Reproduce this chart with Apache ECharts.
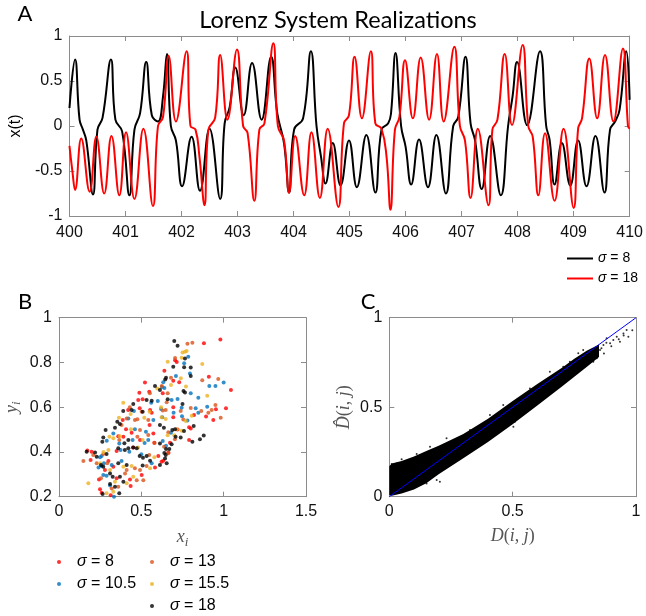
<!DOCTYPE html>
<html><head><meta charset="utf-8">
<script src="https://cdn.jsdelivr.net/npm/echarts@6/dist/echarts.min.js"></script>
<style>html,body{margin:0;padding:0;background:#fff}#c{width:646px;height:616px}</style>
</head><body><div id="c"></div>
<script>
// ---------- Panel A : x(t) ----------
const tBlack = [400.00,400.10,400.18,400.24,400.30,400.42,400.50,400.59,400.74,400.82,400.94,401.07,401.16,401.26,401.37,401.47,401.58,401.67,401.74,401.81,401.90,402.01,402.18,402.33,402.50,402.69,402.77,402.86,402.96,403.11,403.26,403.43,403.60,403.71,403.83,403.92,404.01,404.17,404.31,404.41,404.49,404.57,404.70,404.84,404.99,405.13,405.30,405.46,405.57,405.69,405.74,405.82,405.92,406.00,406.10,406.24,406.40,406.55,406.72,406.85,406.94,407.07,407.16,407.24,407.36,407.51,407.70,407.83,407.91,407.99,408.17,408.40,408.51,408.57,408.66,408.79,408.94,409.08,409.23,409.39,409.55,409.65,409.74,409.82,409.94,410.00];
const xBlack = [0.20,0.74,0.07,-0.04,-0.16,-0.76,-0.04,0.09,0.74,0.07,-0.06,-0.77,-0.04,0.14,0.71,0.12,0.05,0.33,0.80,0.00,-0.16,-0.67,-0.12,-0.72,-0.03,-0.81,0.03,0.21,0.65,0.12,0.70,0.07,0.77,0.14,-0.19,-0.74,-0.04,0.085,0.83,0.00,-0.34,-0.64,-0.19,-0.66,-0.16,-0.68,-0.10,-0.74,-0.04,0.03,0.14,0.81,0.00,-0.23,-0.65,-0.15,-0.68,-0.10,-0.75,0.00,0.10,0.77,0.03,-0.16,-0.70,-0.11,-0.77,0.00,0.33,0.71,0.01,0.83,0.00,-0.15,-0.65,-0.19,-0.66,-0.16,-0.67,-0.11,-0.74,-0.04,0.05,0.18,0.83,0.29];
const tRed = [400.00,400.05,400.10,400.21,400.36,400.48,400.62,400.75,400.89,401.01,401.16,401.32,401.49,401.58,401.67,401.77,401.90,402.09,402.16,402.25,402.32,402.41,402.48,402.60,402.69,402.82,402.99,403.10,403.18,403.30,403.39,403.48,403.64,403.72,403.83,403.92,404.03,404.19,404.32,404.47,404.61,404.80,404.90,404.99,405.09,405.22,405.38,405.46,405.57,405.66,405.73,405.81,405.89,405.99,406.13,406.27,406.42,406.56,406.68,406.87,406.97,407.06,407.16,407.29,407.48,407.55,407.64,407.77,407.90,408.09,408.19,408.27,408.37,408.49,408.66,408.82,409.00,409.08,409.15,409.28,409.42,409.56,409.71,409.88,409.97,410.00];
const xRed = [-0.22,-0.49,-0.71,-0.14,-0.73,-0.12,-0.75,-0.11,-0.77,-0.07,-0.81,-0.03,-0.89,0.00,0.10,0.78,0.05,0.83,0.00,-0.04,-0.34,-0.88,-0.04,0.09,0.79,0.07,0.85,0.00,-0.08,-0.83,-0.04,0.03,0.92,0.00,-0.16,-0.74,-0.11,-0.77,-0.07,-0.80,-0.03,-0.90,0.03,0.12,0.77,0.085,0.83,0.03,-0.03,-0.34,-0.93,-0.04,0.10,0.73,0.085,0.76,0.07,0.80,0.05,0.88,0.00,-0.16,-0.80,-0.03,-0.88,-0.04,0.07,0.80,0.01,0.90,0.00,-0.12,-0.77,-0.08,-0.83,-0.03,-0.91,-0.03,0.085,0.75,0.085,0.79,0.05,0.86,0.00,-0.03];
const xTicksA = [400, 410, 1];
const yTicksA = [-1, 1, 0.5];

// ---------- Panel B : (x_i, y_i) ----------
const ptsSigma8 = [[0.88,0.886],[0.98,0.903],[0.705,0.81],[0.715,0.802],[0.64,0.763],[0.694,0.718],[0.73,0.711],[0.91,0.736],[1.044,0.677],[0.63,0.662],[0.694,0.600],[0.953,0.591],[1.014,0.595],[0.694,0.555],[0.82,0.565],[0.893,0.558],[0.937,0.543],[0.72,0.50],[0.80,0.505],[0.79,0.51],[0.674,0.441],[0.79,0.453],[0.664,0.398],[0.633,0.361],[0.522,0.71],[0.488,0.665],[0.548,0.669],[0.508,0.635],[0.481,0.632],[0.42,0.587],[0.49,0.595],[0.553,0.587],[0.563,0.575],[0.387,0.543],[0.407,0.501],[0.441,0.486],[0.573,0.483],[0.391,0.468],[0.492,0.453],[0.579,0.441],[0.198,0.401],[0.192,0.364],[0.35,0.404],[0.603,0.382],[0.623,0.356],[0.33,0.334],[0.583,0.331],[0.279,0.319],[0.35,0.282],[0.431,0.277],[0.502,0.297],[0.435,0.248],[0.249,0.233],[0.259,0.218],[0.314,0.206],[0.172,0.406],[0.243,0.277],[0.30,0.36],[0.36,0.47],[0.45,0.42],[0.55,0.52]];
const ptsSigma105 = [[0.785,0.826],[0.76,0.796],[0.795,0.751],[0.71,0.739],[0.633,0.711],[0.913,0.695],[0.95,0.695],[1.0,0.71],[0.80,0.662],[0.64,0.686],[0.625,0.69],[0.684,0.632],[0.72,0.637],[0.846,0.642],[0.745,0.598],[0.83,0.595],[0.90,0.602],[0.696,0.575],[0.747,0.56],[0.846,0.575],[0.627,0.555],[0.78,0.541],[0.68,0.486],[0.63,0.449],[0.65,0.428],[0.6,0.628],[0.455,0.583],[0.62,0.592],[0.421,0.55],[0.573,0.543],[0.33,0.483],[0.461,0.501],[0.528,0.49],[0.366,0.438],[0.447,0.453],[0.542,0.453],[0.249,0.376],[0.259,0.382],[0.374,0.409],[0.427,0.401],[0.273,0.349],[0.259,0.337],[0.32,0.342],[0.563,0.349],[0.269,0.297],[0.289,0.294],[0.334,0.20],[0.31,0.25],[0.29,0.45],[0.38,0.36],[0.5,0.39],[0.56,0.62],[0.52,0.44],[0.24,0.33]];
const ptsSigma13 = [[0.78,0.884],[0.81,0.888],[0.705,0.82],[0.68,0.732],[0.624,0.695],[0.87,0.721],[0.967,0.726],[0.66,0.662],[0.654,0.622],[0.63,0.585],[0.80,0.596],[0.864,0.583],[0.927,0.587],[0.95,0.61],[0.739,0.583],[0.907,0.575],[0.982,0.553],[0.755,0.545],[0.664,0.488],[0.704,0.457],[0.552,0.662],[0.502,0.58],[0.648,0.587],[0.411,0.55],[0.461,0.543],[0.476,0.546],[0.542,0.543],[0.492,0.498],[0.542,0.476],[0.366,0.453],[0.476,0.468],[0.638,0.423],[0.208,0.386],[0.269,0.391],[0.548,0.386],[0.664,0.394],[0.148,0.36],[0.229,0.349],[0.293,0.349],[0.411,0.319],[0.461,0.327],[0.492,0.319],[0.532,0.337],[0.255,0.282],[0.401,0.304],[0.472,0.274],[0.512,0.274],[0.32,0.237],[0.36,0.245],[0.38,0.52],[0.43,0.60],[0.58,0.44]];
const ptsSigma155 = [[0.75,0.844],[0.765,0.848],[0.775,0.851],[0.745,0.821],[0.66,0.803],[0.87,0.793],[0.74,0.729],[0.68,0.699],[0.771,0.692],[0.90,0.651],[0.806,0.562],[0.648,0.547],[0.77,0.538],[0.715,0.502],[0.745,0.495],[0.66,0.475],[0.70,0.475],[0.597,0.684],[0.435,0.57],[0.364,0.553],[0.518,0.553],[0.623,0.555],[0.437,0.501],[0.306,0.468],[0.33,0.461],[0.508,0.453],[0.30,0.409],[0.579,0.376],[0.31,0.319],[0.391,0.334],[0.441,0.337],[0.553,0.327],[0.178,0.26],[0.34,0.267],[0.451,0.289],[0.411,0.26],[0.289,0.215],[0.33,0.222],[0.27,0.40],[0.37,0.47],[0.39,0.62],[0.55,0.58],[0.48,0.42],[0.25,0.35],[0.62,0.6]];
const ptsSigma18 = [[0.70,0.896],[0.72,0.875],[0.765,0.818],[0.694,0.781],[0.76,0.778],[0.80,0.777],[0.80,0.739],[0.645,0.724],[0.65,0.732],[0.756,0.672],[0.765,0.666],[0.66,0.635],[0.75,0.614],[0.637,0.508],[0.613,0.52],[0.688,0.498],[0.705,0.502],[0.759,0.494],[0.818,0.516],[0.708,0.468],[0.739,0.465],[0.81,0.446],[0.856,0.457],[0.879,0.473],[0.65,0.413],[0.67,0.413],[0.684,0.434],[0.64,0.395],[0.648,0.386],[0.583,0.695],[0.613,0.677],[0.532,0.632],[0.563,0.629],[0.451,0.614],[0.39,0.583],[0.441,0.587],[0.508,0.58],[0.354,0.535],[0.37,0.525],[0.283,0.498],[0.34,0.508],[0.269,0.465],[0.263,0.446],[0.397,0.439],[0.421,0.453],[0.613,0.438],[0.168,0.401],[0.219,0.397],[0.229,0.379],[0.289,0.391],[0.36,0.416],[0.40,0.409],[0.421,0.416],[0.451,0.42],[0.472,0.416],[0.49,0.382],[0.51,0.374],[0.532,0.382],[0.553,0.361],[0.644,0.371],[0.654,0.349],[0.255,0.342],[0.269,0.334],[0.36,0.349],[0.411,0.342],[0.508,0.339],[0.613,0.342],[0.31,0.304],[0.326,0.289],[0.37,0.289],[0.391,0.267],[0.31,0.257],[0.34,0.245],[0.366,0.215],[0.265,0.212]];
const xTicksB = [0, 1.5, 0.5];
const yTicksB = [0.2, 1, 0.2];

// ---------- Panel C : D(i,j) vs D-hat ----------
const bandX     = [0, 0.01, 0.05, 0.1, 0.15, 0.2, 0.3, 0.4, 0.5, 0.6, 0.7, 0.75, 0.8, 0.85];
const bandUpper = [0.17, 0.185, 0.2, 0.225, 0.255, 0.285, 0.35, 0.435, 0.535, 0.63, 0.72, 0.77, 0.815, 0.85];
const bandLower = [0.01, 0.005, 0.018, 0.04, 0.075, 0.125, 0.215, 0.305, 0.405, 0.51, 0.615, 0.67, 0.725, 0.78];
const sparsePts = [[0.962,0.931],[0.949,0.912],[0.908,0.875],[0.922,0.894],[0.895,0.857],[0.881,0.885],[0.868,0.847],[0.935,0.866],[0.969,0.894],[0.841,0.773],[0.827,0.754],[0.854,0.819],[0.814,0.791],[0.786,0.736],[0.732,0.754],[0.705,0.726],[0.638,0.652],[0.509,0.419],[0.503,0.391],[0.543,0.521],[0.205,0.084],[0.192,0.093],[0.151,0.074],[0.03,0.186],[0.01,0.182],[0.05,0.209],[0.111,0.238],[0.165,0.279],[0.232,0.326],[0.327,0.372],[0.408,0.456],[0.462,0.512],[0.57,0.605],[0.651,0.698],[0.766,0.801],[0.786,0.819],[0.87,0.80],[0.9,0.84],[0.93,0.88],[0.86,0.83],[0.845,0.79],[0.88,0.86],[0.985,0.93],[0.95,0.9]];
const diagX = [0, 1];
const diagY = [0, 1];
const xTicksC = [0, 1, 0.5];
const yTicksC = [0, 1, 0.5];

const zip = (a, b) => a.map((v, i) => [v, b[i]]);
const FRAME = '#8c8c8c';
const SANS = 'Liberation Sans';
const SERIF = 'Liberation Serif';
const fmt = v => String(+v.toFixed(2));

function axis(gridIndex, position, ticks, showLabel, extra) {
  return Object.assign({
    type: 'value', gridIndex, position,
    min: ticks[0], max: ticks[1], interval: ticks[2],
    axisLine: { show: true, onZero: false, lineStyle: { color: FRAME, width: 1 } },
    axisTick: { show: true, inside: true, length: 5, lineStyle: { color: FRAME } },
    axisLabel: { show: showLabel, color: '#111', fontSize: 16, fontFamily: SANS, margin: 7, formatter: fmt },
    splitLine: { show: false }
  }, extra || {});
}

const legendRich = { s: { fontStyle: 'italic', fontFamily: SANS } };
const legendFmt = n => n.replace(/^[BC] /, '').replace('σ', '{s|σ}');

const latexRich = (size) => ({
  v: { fontFamily: SERIF, fontStyle: 'italic', fontSize: size, color: '#555', lineHeight: size + 4 },
  sub: { fontFamily: SERIF, fontStyle: 'italic', fontSize: Math.round(size * 0.7), color: '#555', lineHeight: size + 4, verticalAlign: 'bottom', padding: [6, 0, 0, 0] },
  n: { fontFamily: SERIF, fontSize: size, color: '#555', lineHeight: size + 4 }
});

const option = {
  animation: false,
  backgroundColor: '#fff',
  grid: [
    { left: 59.5, top: 36, width: 572.2, height: 180 },
    { left: 59, top: 317.7, width: 247, height: 179 },
    { left: 389.3, top: 317.7, width: 246.7, height: 179 }
  ],
  xAxis: [
    axis(0, 'bottom', xTicksA, true, { axisLabel: { show: true, color: '#111', fontSize: 16, fontFamily: SANS, margin: 9 } }),
    axis(0, 'top', xTicksA, false),
    axis(1, 'bottom', xTicksB, true, {
      name: '{v|x}{sub|i}', nameLocation: 'middle', nameGap: 30,
      nameTextStyle: { rich: latexRich(18) }
    }),
    axis(1, 'top', xTicksB, false),
    axis(2, 'bottom', xTicksC, true, {
      name: '{v|D}{n|(}{v|i}{n|, }{v|j}{n|)}', nameLocation: 'middle', nameGap: 29,
      nameTextStyle: { rich: latexRich(18) }
    }),
    axis(2, 'top', xTicksC, false)
  ],
  yAxis: [
    axis(0, 'left', yTicksA, true, {
      name: 'x(t)', nameLocation: 'middle', nameGap: 37, nameRotate: 90,
      nameTextStyle: { fontSize: 16, fontFamily: SANS, color: '#000' }
    }),
    axis(0, 'right', yTicksA, false),
    axis(1, 'left', yTicksB, true, {
      name: '{v|y}{sub|i}', nameLocation: 'middle', nameGap: 36, nameRotate: 90,
      nameTextStyle: { rich: latexRich(18) }
    }),
    axis(1, 'right', yTicksB, false),
    axis(2, 'left', yTicksC, true, {
      name: '{v|D\u0302}{n|(}{v|i}{n|, }{v|j}{n|)}', nameLocation: 'middle', nameGap: 34, nameRotate: 90,
      nameTextStyle: { rich: latexRich(18) }
    }),
    axis(2, 'right', yTicksC, false)
  ],
  legend: [
    { orient: 'vertical', left: 567, top: 251, padding: 0, itemWidth: 26, itemHeight: 2, itemGap: 5, icon: 'rect',
      data: ['σ = 8', 'σ = 18'], formatter: legendFmt,
      textStyle: { fontSize: 14, lineHeight: 15, fontFamily: SANS, color: '#000', rich: legendRich } },
    { orient: 'vertical', left: 57, top: 554, padding: 0, itemWidth: 4, itemHeight: 4, itemGap: 6, icon: 'circle',
      data: ['B σ = 8', 'B σ = 10.5'], formatter: legendFmt,
      textStyle: { fontSize: 16, lineHeight: 16, fontFamily: SANS, color: '#000', padding: [0, 0, 0, 11], rich: { s: { fontStyle: 'italic', fontFamily: SANS, fontSize: 16 } } } },
    { orient: 'vertical', left: 150, top: 554, padding: 0, itemWidth: 4, itemHeight: 4, itemGap: 6, icon: 'circle',
      data: ['B σ = 13', 'B σ = 15.5', 'B σ = 18'], formatter: legendFmt,
      textStyle: { fontSize: 16, lineHeight: 16, fontFamily: SANS, color: '#000', padding: [0, 0, 0, 11], rich: { s: { fontStyle: 'italic', fontFamily: SANS, fontSize: 16 } } } }
  ],
  graphic: [
    { type: 'text', x: 338, y: 20, style: { text: 'Lorenz System Realizations', fontSize: 23.5, fontFamily: 'Lato', fill: '#000', align: 'center', verticalAlign: 'middle' } },
    { type: 'text', x: 25, y: 14, style: { text: 'A', fontSize: 22, fontFamily: 'Lato', fill: '#000', align: 'center', verticalAlign: 'middle' } },
    { type: 'text', x: 25, y: 302, style: { text: 'B', fontSize: 22, fontFamily: 'Lato', fill: '#000', align: 'center', verticalAlign: 'middle' } },
    { type: 'text', x: 368, y: 302, style: { text: 'C', fontSize: 22, fontFamily: 'Lato', fill: '#000', align: 'center', verticalAlign: 'middle' } }
  ],
  series: [
    { name: 'σ = 8', type: 'line', xAxisIndex: 0, yAxisIndex: 0, data: zip(tBlack, xBlack), smooth: 0.45,
      symbol: 'none', lineStyle: { color: '#000', width: 2 }, itemStyle: { color: '#000' } },
    { name: 'σ = 18', type: 'line', xAxisIndex: 0, yAxisIndex: 0, data: zip(tRed, xRed), smooth: 0.45,
      symbol: 'none', lineStyle: { color: '#ff0000', width: 2 }, itemStyle: { color: '#ff0000' } },

    { name: 'B σ = 8', type: 'scatter', xAxisIndex: 2, yAxisIndex: 2, data: ptsSigma8, symbolSize: 4, itemStyle: { color: '#ff0000' } },
    { name: 'B σ = 10.5', type: 'scatter', xAxisIndex: 2, yAxisIndex: 2, data: ptsSigma105, symbolSize: 4, itemStyle: { color: '#0072bd' } },
    { name: 'B σ = 13', type: 'scatter', xAxisIndex: 2, yAxisIndex: 2, data: ptsSigma13, symbolSize: 4, itemStyle: { color: '#d95319' } },
    { name: 'B σ = 15.5', type: 'scatter', xAxisIndex: 2, yAxisIndex: 2, data: ptsSigma155, symbolSize: 4, itemStyle: { color: '#edb120' } },
    { name: 'B σ = 18', type: 'scatter', xAxisIndex: 2, yAxisIndex: 2, data: ptsSigma18, symbolSize: 4, itemStyle: { color: '#000' } },

    { type: 'custom', xAxisIndex: 4, yAxisIndex: 4, data: [0], silent: true,
      renderItem: (params, api) => {
        const up = bandX.map((x, i) => api.coord([x, bandUpper[i]]));
        const lo = bandX.map((x, i) => api.coord([x, bandLower[i]])).reverse();
        return { type: 'polygon', shape: { points: up.concat(lo) }, style: { fill: '#000' } };
      } },
    { type: 'scatter', xAxisIndex: 4, yAxisIndex: 4, data: sparsePts, symbolSize: 2, itemStyle: { color: '#000' }, silent: true },
    { type: 'line', xAxisIndex: 4, yAxisIndex: 4, data: zip(diagX, diagY), symbol: 'none', z: 5,
      lineStyle: { color: '#0000ff', width: 1 }, silent: true }
  ]
};

echarts.init(document.getElementById('c'), null, { renderer: 'canvas' }).setOption(option);
</script>
</body></html>
